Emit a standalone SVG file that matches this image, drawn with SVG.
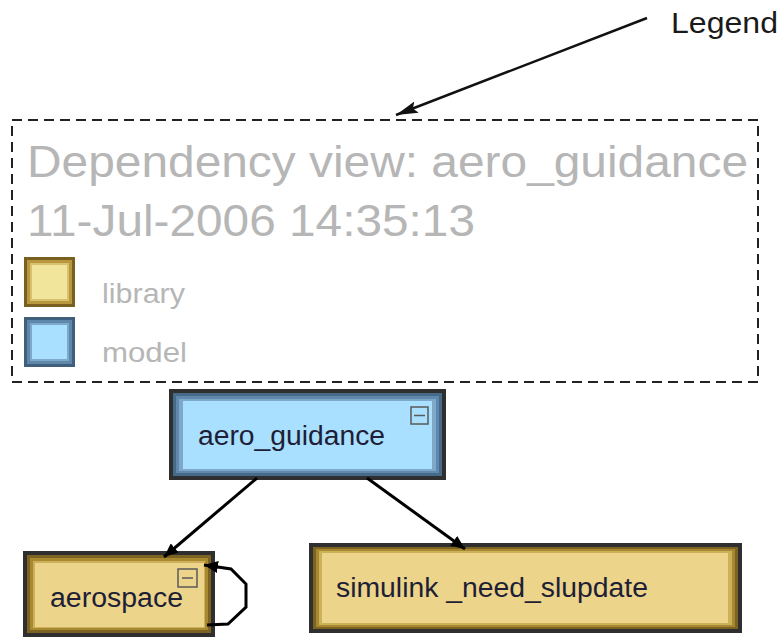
<svg xmlns="http://www.w3.org/2000/svg" width="781" height="640" viewBox="0 0 781 640">
<style>
.lbl{font-family:"Liberation Sans",Arial,sans-serif;fill:#1e1e36}
.gray{font-family:"Liberation Sans",Arial,sans-serif;fill:#b6b6b6}
.edge{stroke:#000;stroke-width:3;fill:none}
.dk{fill:#2f2f2f}
.y1{fill:#7d6322}.y2{fill:#a8892f}.y3{fill:#cdb05a}.y4{fill:#ecd48a}
.b1{fill:#466a8a}.b2{fill:#5f88ab}.b3{fill:#7ea8ca}.b4{fill:#a9dfff}
.icon{fill:none;stroke:#5a5a5a;stroke-width:1.5}
</style>
<defs>
<marker id="ah" markerWidth="14" markerHeight="12" refX="14" refY="6" orient="auto" markerUnits="userSpaceOnUse" viewBox="0 0 14 12">
<path d="M0,0 L14,6 L0,12 z" fill="#000"/>
</marker>
<marker id="ahl" markerWidth="22" markerHeight="12" refX="22" refY="6" orient="auto" markerUnits="userSpaceOnUse" viewBox="0 0 22 12">
<path d="M0,0 L22,6 L0,12 L4,6 z" fill="#111"/>
</marker>
</defs>
<rect width="781" height="640" fill="#fff"/>

<g id="legend-label">
<text x="671" y="33" font-size="30" textLength="107" lengthAdjust="spacingAndGlyphs" style="font-family:'Liberation Sans',Arial,sans-serif;fill:#1a1a1a">Legend</text>
<line x1="647" y1="18" x2="396" y2="115" stroke="#111" stroke-width="2.5" marker-end="url(#ahl)"/>
</g>

<g id="legend">
<rect x="12" y="120" width="746" height="262" fill="none" stroke="#222" stroke-width="2" stroke-dasharray="10,6"/>
<text class="gray" x="27" y="177" font-size="45" textLength="721" lengthAdjust="spacingAndGlyphs">Dependency view: aero_guidance</text>
<text class="gray" x="27" y="236" font-size="45" textLength="448" lengthAdjust="spacingAndGlyphs">11-Jul-2006 14:35:13</text>
<rect x="24" y="257" width="51" height="50" fill="#7a6020"/>
<rect x="27" y="260" width="45" height="44" fill="#b8983e"/>
<rect x="30" y="263" width="39" height="38" fill="#d9c06e"/>
<rect x="32" y="265" width="35" height="34" fill="#f1e59b"/>
<text class="gray" x="102" y="303" font-size="28" textLength="83" lengthAdjust="spacingAndGlyphs">library</text>
<rect x="24" y="317" width="51" height="50" fill="#3f5f7c"/>
<rect x="27" y="320" width="45" height="44" fill="#5e87aa"/>
<rect x="30" y="323" width="39" height="38" fill="#7fa9cb"/>
<rect x="32" y="325" width="35" height="34" fill="#a9e0ff"/>
<text class="gray" x="102" y="362" font-size="28" textLength="85" lengthAdjust="spacingAndGlyphs">model</text>
</g>

<g id="node-aero_guidance">
<rect class="dk" x="169" y="389" width="277" height="91"/>
<rect class="b1" x="173" y="393" width="269" height="83"/>
<rect class="b2" x="176" y="396" width="263" height="77"/>
<rect class="b3" x="179" y="399" width="257" height="72"/>
<rect class="b4" x="183" y="401" width="249" height="68"/>
<rect class="icon" x="411" y="407" width="17" height="17"/>
<line class="icon" x1="414" y1="415.5" x2="425" y2="415.5"/>
<text class="lbl" x="198" y="445" font-size="27" textLength="187" lengthAdjust="spacingAndGlyphs">aero_guidance</text>
</g>

<g id="node-aerospace">
<rect class="dk" x="23" y="551" width="192" height="86"/>
<rect class="y1" x="27" y="555" width="184" height="78"/>
<rect class="y2" x="30" y="558" width="178" height="72"/>
<rect class="y3" x="33" y="561" width="172" height="67"/>
<rect class="y4" x="35" y="563" width="169" height="64"/>
<rect class="icon" x="178" y="569" width="19" height="18"/>
<line class="icon" x1="182" y1="578" x2="193" y2="578"/>
<text class="lbl" x="50" y="607" font-size="27" textLength="133" lengthAdjust="spacingAndGlyphs">aerospace</text>
</g>

<g id="node-simulink_need_slupdate">
<rect class="dk" x="309" y="543" width="433" height="90"/>
<rect class="y1" x="313" y="547" width="425" height="82"/>
<rect class="y2" x="316" y="549" width="419" height="78"/>
<rect class="y3" x="319" y="551" width="413" height="74"/>
<rect class="y4" x="322" y="553" width="406" height="70"/>
<text class="lbl" x="336" y="597" font-size="27" textLength="312" lengthAdjust="spacingAndGlyphs">simulink _need_slupdate</text>
</g>

<g id="edges">
<line class="edge" x1="257" y1="478" x2="164" y2="557" marker-end="url(#ah)"/>
<line class="edge" x1="367" y1="478" x2="465" y2="549" marker-end="url(#ah)"/>
<path class="edge" d="M207,625 L228,624 L246,607 L246,584 L231,569 L204,565" marker-end="url(#ah)"/>
</g>
</svg>
